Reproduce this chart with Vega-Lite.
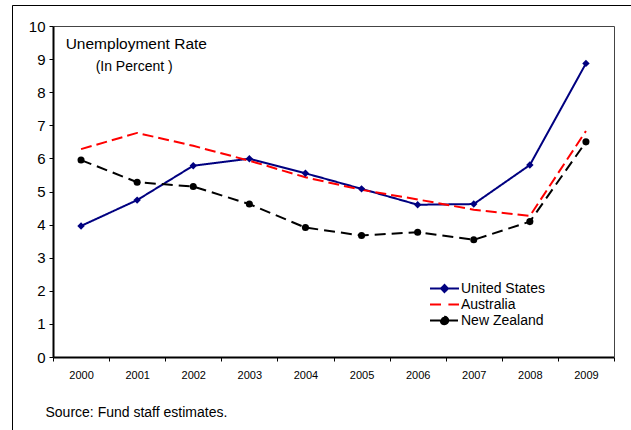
{
  "$schema": "https://vega.github.io/schema/vega-lite/v6.json",
  "width": 619,
  "height": 425,
  "autosize": "none",
  "padding": {"left": 12, "top": 5, "right": 0, "bottom": 0},
  "background": "#ffffff",
  "config": {
    "font": "Liberation Sans",
    "view": {"stroke": "#000000", "strokeWidth": 1, "strokeDash": [619, 1044, 425]}
  },
  "datasets": {
    "rates": [
      {"year": "2000", "country": "United States", "rate": 3.96},
      {"year": "2001", "country": "United States", "rate": 4.74},
      {"year": "2002", "country": "United States", "rate": 5.78},
      {"year": "2003", "country": "United States", "rate": 5.99},
      {"year": "2004", "country": "United States", "rate": 5.55},
      {"year": "2005", "country": "United States", "rate": 5.08},
      {"year": "2006", "country": "United States", "rate": 4.6},
      {"year": "2007", "country": "United States", "rate": 4.62},
      {"year": "2008", "country": "United States", "rate": 5.8},
      {"year": "2009", "country": "United States", "rate": 8.87},
      {"year": "2000", "country": "Australia", "rate": 6.28},
      {"year": "2001", "country": "Australia", "rate": 6.77},
      {"year": "2002", "country": "Australia", "rate": 6.38},
      {"year": "2003", "country": "Australia", "rate": 5.93},
      {"year": "2004", "country": "Australia", "rate": 5.43},
      {"year": "2005", "country": "Australia", "rate": 5.05},
      {"year": "2006", "country": "Australia", "rate": 4.76},
      {"year": "2007", "country": "Australia", "rate": 4.45},
      {"year": "2008", "country": "Australia", "rate": 4.26},
      {"year": "2009", "country": "Australia", "rate": 6.83},
      {"year": "2000", "country": "New Zealand", "rate": 5.95},
      {"year": "2001", "country": "New Zealand", "rate": 5.28},
      {"year": "2002", "country": "New Zealand", "rate": 5.15},
      {"year": "2003", "country": "New Zealand", "rate": 4.62},
      {"year": "2004", "country": "New Zealand", "rate": 3.91},
      {"year": "2005", "country": "New Zealand", "rate": 3.67},
      {"year": "2006", "country": "New Zealand", "rate": 3.77},
      {"year": "2007", "country": "New Zealand", "rate": 3.54},
      {"year": "2008", "country": "New Zealand", "rate": 4.09},
      {"year": "2009", "country": "New Zealand", "rate": 6.5}
    ],
    "titles": [{"label": "Unemployment Rate"}],
    "subtitles": [{"label": "(In Percent )"}]
  },
  "resolve": {"axis": {"x": "independent", "y": "independent"}},
  "layer": [
    {
      "data": {"name": "rates"},
      "mark": {"type": "line", "strokeWidth": 2, "clip": false},
      "encoding": {
        "x": {
          "field": "year", "type": "ordinal",
          "scale": {"type": "band", "range": [41, 602], "paddingInner": 0, "paddingOuter": 0},
          "axis": {
            "orient": "bottom", "offset": -73, "labelAngle": 0, "labelFontSize": 11, "labelColor": "#000000",
            "labelPadding": 8, "tickSize": 4, "tickColor": "#000000", "tickBand": "extent",
            "domainColor": "#000000", "domainWidth": 2, "grid": false,
            "title": "Source: Fund staff estimates.", "titleX": 33, "titleY": 59, "titleAlign": "left",
            "titleBaseline": "alphabetic", "titleFontSize": 14, "titleFontWeight": "normal", "titleColor": "#000000"
          }
        },
        "y": {
          "field": "rate", "type": "quantitative",
          "scale": {"domain": [0, 10], "nice": false, "range": [352, 21]},
          "axis": {
            "orient": "left", "offset": -41, "values": [0, 1, 2, 3, 4, 5, 6, 7, 8, 9, 10], "labelFontSize": 15,
            "labelColor": "#000000", "labelPadding": 4, "tickSize": 4, "tickColor": "#000000",
            "domainColor": "#000000", "domainWidth": 2, "grid": false, "title": null
          }
        },
        "color": {
          "field": "country", "type": "nominal",
          "scale": {"domain": ["United States", "Australia", "New Zealand"], "range": ["#000080", "#ff0000", "#000000"]},
          "legend": {
            "orient": "none", "legendX": 425, "legendY": 276, "title": null, "padding": 0,
            "labelFontSize": 14, "labelColor": "#000000", "labelOffset": 9, "rowPadding": 0,
            "symbolSize": 169, "symbolStrokeWidth": 2, "symbolType": "stroke",
            "encode": {
              "symbols": {
                "update": {
                  "shape": {"signal": "datum.value === 'United States' ? 'M-2.23,0H2.23M-0.54,0L0,-0.54L0.54,0L0,0.54Z' : datum.value === 'Australia' ? 'M-2.23,0H0.15M0.6,0H2.23' : 'M-2.23,0H2.23M0.58,0A0.58,0.58 0 1,1 -0.58,0A0.58,0.58 0 1,1 0.58,0Z'"},
                  "stroke": {"signal": "datum.value === 'United States' ? '#000080' : datum.value === 'Australia' ? '#ff0000' : '#000000'"},
                  "fill": {"signal": "datum.value === 'United States' ? '#000080' : datum.value === 'Australia' ? '#ff0000' : '#000000'"},
                  "strokeDash": {"value": []},
                  "strokeWidth": {"value": 2}
                }
              }
            }
          }
        },
        "strokeDash": {
          "field": "country", "type": "nominal",
          "scale": {"domain": ["United States", "Australia", "New Zealand"], "range": [[1, 0], [11, 5], [11, 6]]},
          "legend": null
        }
      }
    },
    {
      "data": {"name": "rates"},
      "transform": [{"filter": "datum.country === 'United States'"}],
      "mark": {"type": "point", "shape": "diamond", "filled": true, "size": 55, "color": "#000080", "opacity": 1, "clip": false},
      "encoding": {
        "x": {
          "field": "year", "type": "ordinal",
          "axis": {"orient": "top", "offset": -21, "labels": false, "ticks": false, "domainColor": "#444444", "domainWidth": 1, "grid": false, "title": null}
        },
        "y": {
          "field": "rate", "type": "quantitative",
          "axis": {"orient": "right", "offset": -17, "labels": false, "ticks": false, "domainColor": "#444444", "domainWidth": 1, "grid": false, "title": null}
        }
      }
    },
    {
      "data": {"name": "rates"},
      "transform": [{"filter": "datum.country === 'New Zealand'"}],
      "mark": {"type": "point", "shape": "circle", "filled": true, "size": 50, "color": "#000000", "opacity": 1, "clip": false},
      "encoding": {
        "x": {"field": "year", "type": "ordinal", "axis": null},
        "y": {"field": "rate", "type": "quantitative", "axis": null}
      }
    },
    {
      "data": {"name": "titles"},
      "mark": {"type": "text", "align": "left", "baseline": "alphabetic", "fontSize": 15.5, "color": "#000000"},
      "encoding": {
        "x": {"datum": "2000", "type": "ordinal", "bandPosition": 0.226, "axis": null},
        "y": {"datum": 9.3, "type": "quantitative", "axis": null},
        "text": {"field": "label"}
      }
    },
    {
      "data": {"name": "subtitles"},
      "mark": {"type": "text", "align": "left", "baseline": "alphabetic", "fontSize": 14, "color": "#000000"},
      "encoding": {
        "x": {"datum": "2000", "type": "ordinal", "bandPosition": 0.76, "axis": null},
        "y": {"datum": 8.64, "type": "quantitative", "axis": null},
        "text": {"field": "label"}
      }
    }
  ]
}
